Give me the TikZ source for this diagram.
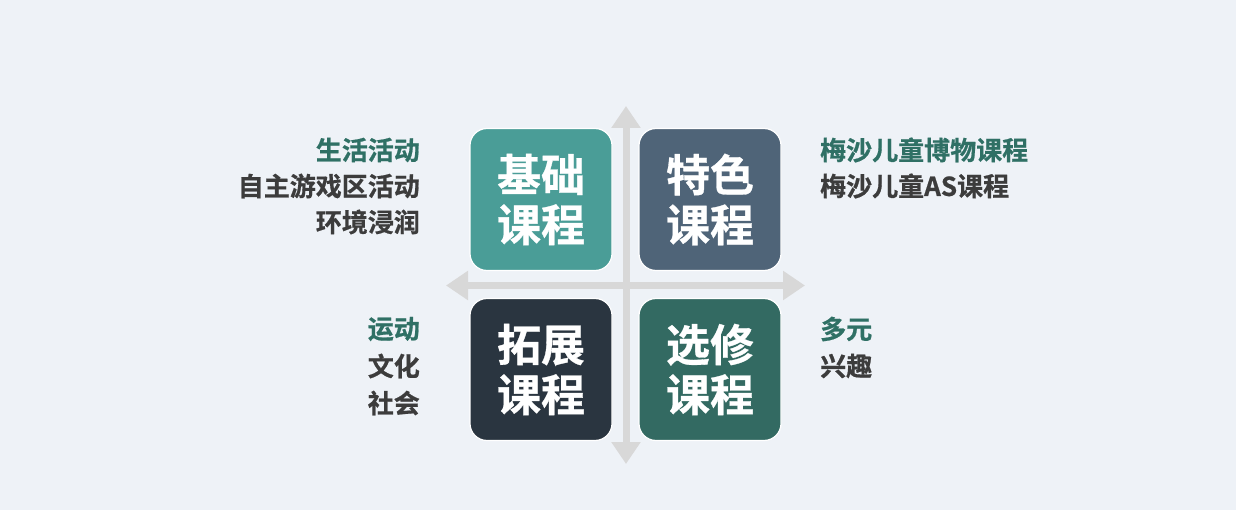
\documentclass[tikz,border=0pt]{standalone}
\usepackage{fontspec}
\setmainfont{Noto Sans CJK SC Bold}[FakeBold=0.7]
\usetikzlibrary{arrows.meta}
\definecolor{bgc}{HTML}{EEF2F7}
\definecolor{axisc}{HTML}{D8D8D8}
\definecolor{boxa}{HTML}{4A9D97}
\definecolor{boxb}{HTML}{4F6478}
\definecolor{boxc}{HTML}{2A3540}
\definecolor{boxd}{HTML}{336A62}
\definecolor{greent}{HTML}{2F7065}
\definecolor{darkt}{HTML}{3C3C3C}
\tikzset{
  quad/.style={draw=white, line width=1.2pt, rounded corners=17pt, minimum width=142pt, minimum height=142pt, inner sep=0pt, text=white, align=center, font=\fontsize{44}{50}\selectfont},
  axisline/.style={draw=axisc, line width=7pt, -{Triangle[length=22pt,width=28pt]}},
  lab/.style={inner sep=0pt, font=\fontsize{26}{36}\selectfont},
  hl/.style={lab, text=greent},
  nl/.style={lab, text=darkt}
}
\begin{document}
\begin{tikzpicture}[x=1pt,y=-1pt]
\fill[bgc] (0,0) rectangle (1236,510);
\useasboundingbox (0,0) rectangle (1236,510);
% axes
\coordinate (c) at (626,285.5);
\coordinate (top) at (626,106);
\coordinate (bot) at (626,464);
\coordinate (lft) at (446,285.5);
\coordinate (rgt) at (805,285.5);
\draw[axisline] (c) -- (top);
\draw[axisline] (c) -- (bot);
\draw[axisline] (c) -- (lft);
\draw[axisline] (c) -- (rgt);
% boxes
\node[quad, fill=boxa] (ji) at (541,199.5) {基础\\课程};
\node[quad, fill=boxb] (te) at (710,199.5) {特色\\课程};
\node[quad, fill=boxc] (tuo) at (541,369.5) {拓展\\课程};
\node[quad, fill=boxd] (xuan) at (710,369.5) {选修\\课程};
% left labels
\node[hl, anchor=east] (l1) at (420,150) {生活活动};
\node[nl, anchor=east] (l2) at (420,186) {自主游戏区活动};
\node[nl, anchor=east] (l3) at (420,222) {环境浸润};
\node[hl, anchor=east] (l4) at (420,329) {运动};
\node[nl, anchor=east] (l5) at (420,366) {文化};
\node[nl, anchor=east] (l6) at (420,403) {社会};
% right labels
\node[hl, anchor=west] (r1) at (820,150) {梅沙儿童博物课程};
\node[nl, anchor=west] (r2) at (820,186) {梅沙儿童AS课程};
\node[hl, anchor=west] (r3) at (820,329) {多元};
\node[nl, anchor=west] (r4) at (820,366) {兴趣};
\end{tikzpicture}
\end{document}
